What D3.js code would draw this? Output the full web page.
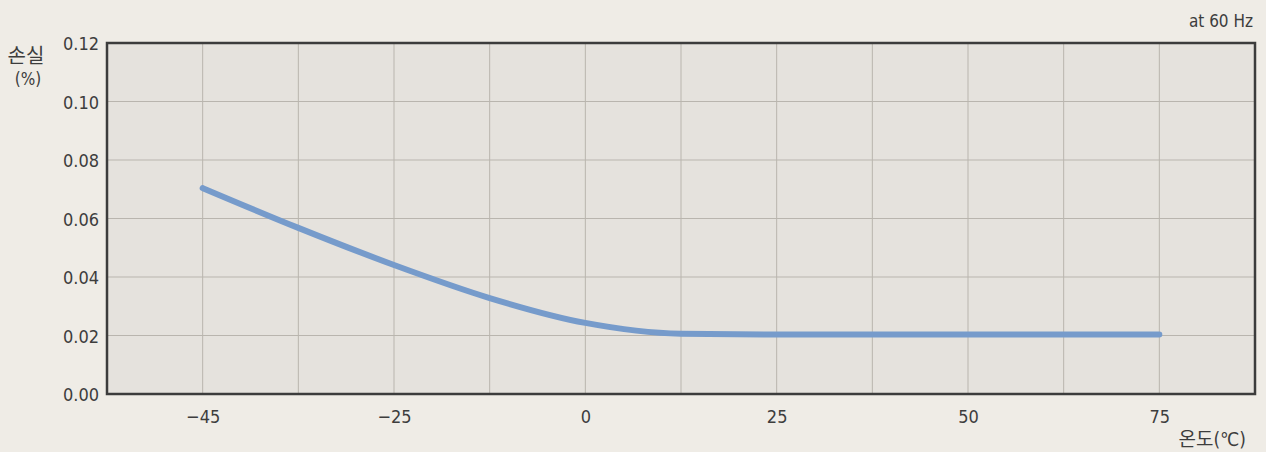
<!DOCTYPE html>
<html>
<head>
<meta charset="utf-8">
<script src="https://cdn.jsdelivr.net/npm/d3@7"></script>
<style>
    body { margin: 0; background: #efece6; }
    svg { display: block; }
    text { font-family: "DejaVu Sans Condensed", "Liberation Sans Narrow", "Noto Sans CJK KR", sans-serif; fill: #3d3d3d; }
</style>
</head>
<body>
<svg></svg>
<script>
// temperature ticks (one gridline each), blank ones are unlabeled
let categories = ['-45', '-35', '-25', '-12', '0', '12', '25', '37', '50', '62', '75']
let tickLabels = ['\u221245', '', '\u221225', '', '0', '', '25', '', '50', '', '75']
let lossValues = [0.0704, 0.0568, 0.0441, 0.0328, 0.0243, 0.0206, 0.0203, 0.0203, 0.0203, 0.0203, 0.0203]
let yTicks = [0, 0.02, 0.04, 0.06, 0.08, 0.10, 0.12]

let width = 1266
let height = 452
let boxLeft = 107
let boxRight = 1255
let boxTop = 43
let boxBottom = 394

let svg = d3.select('svg')
let xScale
let yScale

let drawCanvas = () => {
    svg.attr('width', width)
       .attr('height', height)
    svg.append('rect')
       .attr('x', boxLeft)
       .attr('y', boxTop)
       .attr('width', boxRight - boxLeft)
       .attr('height', boxBottom - boxTop)
       .attr('fill', '#e5e2dd')
}

let generateScales = () => {
    // 12 equal steps across the box, ticks sit on steps 1..11
    let step = (boxRight - boxLeft) / (categories.length + 1)
    xScale = d3.scalePoint()
               .domain(categories)
               .range([boxLeft + step, boxRight - step])
    yScale = d3.scaleLinear()
               .domain([0, 0.12])
               .range([boxBottom, boxTop])
}

let drawGrid = () => {
    svg.append('g')
       .selectAll('line')
       .data(categories)
       .enter()
       .append('line')
       .attr('x1', (d) => xScale(d))
       .attr('x2', (d) => xScale(d))
       .attr('y1', boxTop)
       .attr('y2', boxBottom)
       .attr('stroke', '#b9b5ae')
       .attr('stroke-width', 1)
    svg.append('g')
       .selectAll('line')
       .data(yTicks.slice(1, -1))
       .enter()
       .append('line')
       .attr('x1', boxLeft)
       .attr('x2', boxRight)
       .attr('y1', (d) => yScale(d))
       .attr('y2', (d) => yScale(d))
       .attr('stroke', '#b9b5ae')
       .attr('stroke-width', 1)
}

let drawLine = () => {
    let line = d3.line()
                 .x((d, i) => xScale(categories[i]))
                 .y((d) => yScale(d))
                 .curve(d3.curveMonotoneX)
    svg.append('path')
       .datum(lossValues)
       .attr('d', line)
       .attr('fill', 'none')
       .attr('stroke', '#769bcb')
       .attr('stroke-width', 6)
       .attr('stroke-linecap', 'round')
}

let generateAxes = () => {
    let xAxis = d3.axisBottom(xScale)
                  .tickSize(0)
                  .tickPadding(16)
                  .tickFormat((d, i) => tickLabels[i])
    svg.append('g')
       .attr('id', 'x-axis')
       .attr('transform', 'translate(0, ' + boxBottom + ')')
       .call(xAxis)
       .call(g => g.select('.domain').remove())
       .selectAll('text')
       .style('font-size', '18px')

    let yAxis = d3.axisLeft(yScale)
                  .tickValues(yTicks)
                  .tickSize(0)
                  .tickPadding(8)
                  .tickFormat(d3.format('.2f'))
    svg.append('g')
       .attr('id', 'y-axis')
       .attr('transform', 'translate(' + boxLeft + ', 1)')
       .call(yAxis)
       .call(g => g.select('.domain').remove())
       .selectAll('text')
       .style('font-size', '18px')

    // frame
    svg.append('rect')
       .attr('x', boxLeft)
       .attr('y', boxTop)
       .attr('width', boxRight - boxLeft)
       .attr('height', boxBottom - boxTop)
       .attr('fill', 'none')
       .attr('stroke', '#3c3c3c')
       .attr('stroke-width', 2.5)
}

let drawLabels = () => {
    svg.append('text')
       .attr('x', 26).attr('y', 63)
       .attr('text-anchor', 'middle')
       .style('font-size', '20px')
       .text('손실')
    svg.append('text')
       .attr('x', 28).attr('y', 85)
       .attr('text-anchor', 'middle')
       .style('font-size', '17px')
       .text('(%)')
    svg.append('text')
       .attr('x', 1253).attr('y', 27)
       .attr('text-anchor', 'end')
       .style('font-size', '17px')
       .text('at 60 Hz')
    svg.append('text')
       .attr('x', 1246).attr('y', 446)
       .attr('text-anchor', 'end')
       .style('font-size', '19px')
       .text('온도(℃)')
}

drawCanvas()
generateScales()
drawGrid()
drawLine()
generateAxes()
drawLabels()
</script>
</body>
</html>
